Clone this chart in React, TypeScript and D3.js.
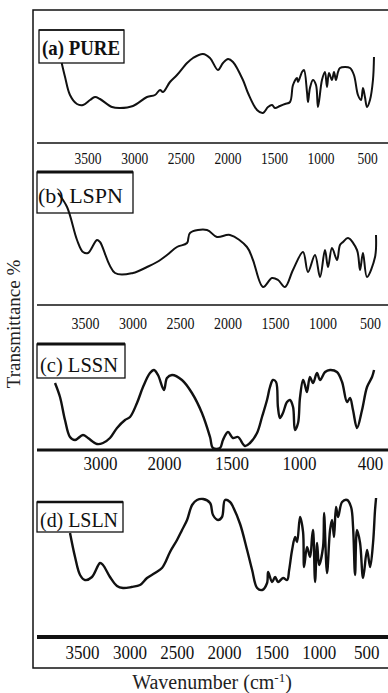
import React, { useEffect, useRef } from 'react';
import * as d3 from 'd3';

// FTIR spectra, [wavenumber cm-1, transmittance (arb.)]
const pureSpectrum: [number, number][] = [
  [3778, 80], [3742, 66], [3689, 48], [3614, 39], [3549, 38], [3474, 43], [3421, 46], [3367, 44],
  [3238, 36], [3152, 35], [3013, 37], [2863, 46], [2777, 48], [2723, 53], [2691, 51], [2616, 61],
  [2541, 68], [2433, 80], [2369, 85], [2262, 89], [2187, 85], [2101, 73], [2047, 80], [1993, 84],
  [1940, 81], [1833, 63], [1779, 50], [1682, 33], [1618, 30], [1564, 36], [1521, 38], [1489, 35],
  [1436, 37], [1382, 39], [1328, 41], [1296, 58], [1253, 65], [1242, 61], [1199, 71], [1178, 73],
  [1146, 51], [1135, 41], [1114, 55], [1082, 63], [1049, 58], [1028, 36], [985, 63], [953, 71],
  [931, 56], [910, 70], [878, 63], [856, 71], [835, 63], [813, 71], [792, 75], [738, 76],
  [684, 75], [642, 68], [599, 48], [566, 43], [545, 55], [524, 46], [502, 36], [470, 43],
  [438, 63], [427, 86],
];

const lspnSpectrum: [number, number][] = [
  [3784, 112], [3689, 98], [3584, 65], [3521, 53], [3468, 52], [3374, 65], [3342, 63], [3184, 32],
  [2995, 32], [2847, 38], [2742, 43], [2637, 50], [2532, 58], [2426, 62], [2395, 72], [2216, 75],
  [2111, 68], [1974, 70], [1795, 58], [1732, 45], [1626, 18], [1532, 27], [1468, 25], [1395, 18],
  [1311, 35], [1205, 53], [1153, 33], [1079, 50], [1026, 28], [974, 55], [942, 38], [900, 57],
  [847, 45], [816, 60], [784, 63], [732, 67], [637, 55], [605, 35], [574, 52], [532, 28],
  [447, 48], [437, 70],
];

const lssnSpectrum: [number, number][] = [
  [3703, 67], [3625, 53], [3547, 30], [3469, 13], [3391, 10], [3266, 15], [3188, 12], [3047, 6],
  [2953, 7], [2844, 12], [2734, 22], [2609, 30], [2531, 33], [2422, 47], [2328, 63], [2219, 77],
  [2156, 80], [2094, 75], [2000, 60], [1978, 72], [1941, 75], [1867, 70], [1793, 57], [1719, 37],
  [1659, 13], [1637, 2], [1585, 2], [1563, 10], [1526, 18], [1489, 12], [1452, 13], [1400, 4],
  [1363, 7], [1311, 17], [1274, 33], [1237, 50], [1215, 63], [1193, 70], [1170, 68], [1156, 43],
  [1141, 32], [1119, 37], [1089, 48], [1067, 50], [1044, 43], [1030, 20], [1007, 27], [993, 52],
  [970, 70], [956, 65], [941, 58], [919, 73], [896, 67], [867, 77], [844, 70], [807, 78],
  [770, 80], [719, 78], [681, 68], [644, 48], [622, 52], [600, 40], [570, 22], [533, 40],
  [496, 63], [459, 73], [444, 80],
];

const lslnSpectrum: [number, number][] = [
  [3627, 104], [3574, 80], [3521, 62], [3469, 57], [3395, 60], [3310, 74], [3279, 72], [3205, 60],
  [3131, 51], [3067, 49], [2978, 50], [2888, 52], [2814, 59], [2730, 64], [2656, 69], [2624, 74],
  [2571, 85], [2497, 97], [2444, 107], [2391, 117], [2338, 132], [2286, 137], [2222, 138], [2148, 134],
  [2117, 122], [2064, 117], [2022, 120], [1990, 137], [1937, 135], [1905, 130], [1831, 113], [1757, 87],
  [1704, 67], [1651, 49], [1598, 47], [1546, 54], [1535, 65], [1493, 55], [1461, 60], [1430, 55],
  [1377, 59], [1334, 57], [1313, 67], [1282, 87], [1250, 100], [1229, 95], [1198, 120], [1166, 105],
  [1155, 70], [1124, 90], [1092, 80], [1071, 100], [1060, 107], [1039, 55], [1018, 94], [997, 72],
  [955, 90], [944, 124], [913, 64], [881, 107], [860, 117], [839, 100], [818, 130], [796, 120],
  [754, 135], [701, 137], [659, 130], [638, 110], [617, 62], [596, 107], [564, 94], [532, 59],
  [490, 87], [458, 70], [427, 94], [406, 127], [395, 139],
];

const wideTicks = [3500, 3000, 2500, 2000, 1500, 1000, 500];
const lssnTicks = [3000, 2000, 1500, 1000, 400];
const panelLabels = ['(a) PURE', '(b) LSPN', '(c) LSSN', '(d) LSLN'];

const FONT = "'Liberation Serif', 'DejaVu Serif', serif";

const panels = [
  {
    label: panelLabels[0], data: pureSpectrum, ticks: wideTicks,
    xDomain: [4000, 400], xRange: [41, 376.5], axisY: 143, axisW: 1.5,
    box: { x: 39, y: 30, w: 85, h: 33, top: 1.5 }, text: { x: 42, y: 55, len: 78, bold: true },
    tickPad: 9, tickFont: 17, tickLen: 27, lineW: 2,
  },
  {
    label: panelLabels[1], data: lspnSpectrum, ticks: wideTicks,
    xDomain: [4000, 400], xRange: [37.5, 379.5], axisY: 305, axisW: 1.5,
    box: { x: 37, y: 172, w: 96, h: 41, top: 3 }, text: { x: 38, y: 203, len: 85, bold: false },
    tickPad: 12, tickFont: 17, tickLen: 28, lineW: 2,
  },
  {
    label: panelLabels[2], data: lssnSpectrum, ticks: lssnTicks,
    xDomain: [4000, 2000, 400], xRange: [36, 164, 380], axisY: 450, axisW: 3,
    box: { x: 37, y: 344, w: 88, h: 34, top: 3 }, text: { x: 40, y: 372, len: 78, bold: false },
    tickPad: 7, tickFont: 19, tickLen: 34, lineW: 2.4,
  },
  {
    label: panelLabels[3], data: lslnSpectrum, ticks: wideTicks,
    xDomain: [4000, 400], xRange: [34.7, 375.6], axisY: 637, axisW: 4,
    box: { x: 37, y: 502, w: 86, h: 30, top: 2.5 }, text: { x: 40, y: 527, len: 78, bold: false },
    tickPad: 9, tickFont: 19, tickLen: 34, lineW: 2.4,
  },
];

const App = () => {
  const ref = useRef<SVGSVGElement | null>(null);

  useEffect(() => {
    const svg = d3.select(ref.current);
    svg.selectAll('*').remove();

    svg.append('rect').attr('width', 388).attr('height', 693).attr('fill', '#fff');

    // outer frame, right side runs off the page
    svg.append('rect')
      .attr('x', 33).attr('y', 10).attr('width', 400).attr('height', 658)
      .attr('fill', 'none').attr('stroke', '#111').attr('stroke-width', 1.5);

    panels.forEach(p => {
      const x = d3.scaleLinear().domain(p.xDomain).range(p.xRange);
      const y = d3.scaleLinear().domain([0, 140]).range([p.axisY, p.axisY - 140]);
      const g = svg.append('g');

      // label box
      g.append('rect')
        .attr('x', p.box.x).attr('y', p.box.y).attr('width', p.box.w).attr('height', p.box.h)
        .attr('fill', 'none').attr('stroke', '#111').attr('stroke-width', 1.3);
      g.append('line')
        .attr('x1', p.box.x).attr('x2', p.box.x + p.box.w)
        .attr('y1', p.box.y).attr('y2', p.box.y)
        .attr('stroke', '#111').attr('stroke-width', p.box.top);
      g.append('text')
        .attr('x', p.text.x).attr('y', p.text.y)
        .style('font-family', FONT).style('font-size', '22px')
        .style('font-weight', p.text.bold ? 'bold' : 'normal')
        .attr('textLength', p.text.len).attr('lengthAdjust', 'spacingAndGlyphs')
        .attr('fill', '#111')
        .text(p.label);

      // baseline
      g.append('line')
        .attr('x1', 37).attr('x2', 390)
        .attr('y1', p.axisY).attr('y2', p.axisY)
        .attr('stroke', '#111').attr('stroke-width', p.axisW);

      const axis = d3.axisBottom(x)
        .tickValues(p.ticks)
        .tickSize(0)
        .tickPadding(p.tickPad)
        .tickFormat(d3.format('d'));
      const ag = g.append('g').attr('transform', `translate(0,${p.axisY})`).call(axis);
      ag.select('.domain').remove();
      ag.attr('font-family', null);
      ag.selectAll('text')
        .style('font-family', FONT).style('font-size', `${p.tickFont}px`).attr('fill', '#111')
        .attr('textLength', (d: any) => (String(d).length === 4 ? p.tickLen : p.tickLen * 0.75))
        .attr('lengthAdjust', 'spacingAndGlyphs')
        // last label of (c) sits at the right edge, keep it inside the page
        .attr('dx', (d: any) => (d === 400 ? -10 : 0));

      const line = d3.line<[number, number]>()
        .x(d => x(d[0]))
        .y(d => y(d[1]))
        .curve(d3.curveCatmullRom.alpha(0.5));
      g.append('path')
        .datum(p.data)
        .attr('d', line)
        .attr('fill', 'none')
        .attr('stroke', '#111')
        .attr('stroke-width', p.lineW)
        .attr('stroke-linejoin', 'round');
    });

    svg.append('text')
      .attr('transform', 'translate(20,324) rotate(-90)')
      .attr('text-anchor', 'middle')
      .style('font-family', FONT).style('font-size', '19px').attr('fill', '#222')
      .text('Transmittance %');

    const xl = svg.append('text')
      .attr('x', 212).attr('y', 689)
      .attr('text-anchor', 'middle')
      .style('font-family', FONT).style('font-size', '20px').attr('fill', '#222');
    xl.append('tspan').text('Wavenumber (cm');
    xl.append('tspan').attr('dy', -7).style('font-size', '13px').text('-1');
    xl.append('tspan').attr('dy', 7).text(')');
  }, []);

  return (
    <svg ref={ref} width={388} height={693}
      style={{ position: 'absolute', left: 0, top: 0, display: 'block' }} />
  );
};

export default App;
